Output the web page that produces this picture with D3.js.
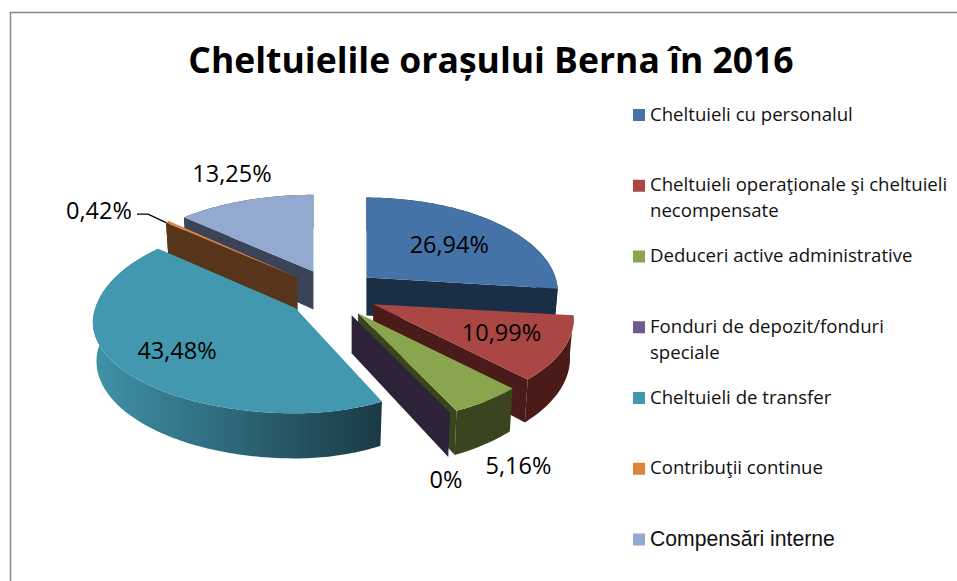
<!DOCTYPE html>
<html><head><meta charset="utf-8">
<script src="https://cdnjs.cloudflare.com/ajax/libs/d3/7.8.5/d3.min.js"></script>
<style>html,body{margin:0;padding:0;background:#fff}svg{display:block}</style>
</head><body><svg id="c" width="957" height="581"></svg>
<script>
const titleText = "Cheltuielile orașului Berna în 2016";
const categories = [["Cheltuieli cu personalul"],["Cheltuieli operaţionale şi cheltuieli","necompensate"],["Deduceri active administrative"],["Fonduri de depozit/fonduri","speciale"],["Cheltuieli de transfer"],["Contribuţii continue"],["Compensări interne"]];
const values = [26.94,10.99,5.16,0,43.48,0.42,13.25];
const valueLabels = ["26,94%","10,99%","5,16%","0%","43,48%","0,42%","13,25%"];
const topColors = ["#4572a7","#aa4643","#89a54e","#71588f","#4198af","#db843d","#93a9cf"];
const sideColors = ["#1a2e45","#4a1b18","#3a4520","#2e2238","#1a3a45","#57351a","#3a4358"];

// layout
const W=957,H=581, cx=332, cy=293.5, rx=198, ry=92.5, persp=0.157, depth=38, explodeX=46, explodeY=24;
const labelFx=[0.56,0.724,1.43,1.118,0.75,1.343,1.02], labelFy=[0.536,0.70,2.0,1.97,0.77,1.08,1.15];
const drawOrder=[6,5,0,4,1,2,3];
const xScaleRight=[0.955,1,1,1,0.88,1,1], xScaleLeft=[1,1,1,1,1.01,0.97,0.98];
const yScaleFront=[1,1,1,1,0.96,1,1], yScaleBack=[1,1,1,1,1.08,1,0.96];

const svg=d3.select("#c");
svg.append("path").attr("d",d3.line()([[10.5,H],[10.5,12.5],[W,12.5]])).attr("fill","none").attr("stroke","#868686").attr("stroke-width",1.5);

svg.append("text").text(titleText).attr("x",491).attr("y",73)
  .attr("text-anchor","middle").attr("font-family","Open Sans").attr("font-weight",700).attr("font-size",35.5).attr("fill","#000");

const pie=d3.pie().sort(null).value(d=>d).startAngle(0).endAngle(2*Math.PI);
const arcs=pie(values);
const line=d3.line();
const deg=Math.PI/180;

function projector(ax,ay,i){
  return (a,r,level)=>{
    const X=r*Math.sin(a), Z=-r*Math.cos(a), s=1/(1-persp*Z);
    const kx=X>0?xScaleRight[i]:xScaleLeft[i], ky=Z>0?yScaleFront[i]:yScaleBack[i];
    return [ax+X*rx*kx*s*(1-0.018*level), ay+Z*ry*ky*s+depth*s*level];
  };
}
function arcPts(P,a0,a1,level){
  const n=Math.max(1,Math.ceil(Math.abs(a1-a0)/deg));
  return d3.range(n+1).map(i=>P(a0+(a1-a0)*i/n,1,level));
}

const defs=svg.append("defs");
const grad=defs.append("linearGradient").attr("id","tealRim").attr("gradientUnits","userSpaceOnUse");
grad.append("stop").attr("offset",0).attr("stop-color","#3f92a9");
grad.append("stop").attr("offset",1).attr("stop-color",sideColors[4]);

const wedges=arcs.map((d,i)=>{
  const m=(d.startAngle+d.endAngle)/2;
  const ax=cx+explodeX*Math.sin(m), ay=cy-explodeY*Math.cos(m);
  return {i,d,m,ax,ay,P:projector(ax,ay,i)};
});

drawOrder.forEach(i=>{
  const w=wedges[i], {d,P}=w, a0=d.startAngle, a1=d.endAngle;
  const g=svg.append("g");
  const side=sideColors[i];
  if(d.value>0){
    const rim=arcPts(P,a0,a1,0).concat(arcPts(P,a1,a0,1));
    if(i===4){
      const xs=rim.map(p=>p[0]);
      grad.attr("x1",d3.min(xs)).attr("x2",d3.max(xs)).attr("y1",0).attr("y2",0);
    }
    g.append("path").attr("d",line(rim)+"Z").attr("fill",i===4?"url(#tealRim)":side);
  }
  [[a0,1],[a1,-1]].forEach(([a,sign])=>{
    const q=[P(a,0,0),P(a,1,0),P(a,1,1),P(a,0,1)];
    if(d3.polygonArea(q)*sign>0) g.append("path").attr("d",line(q)+"Z").attr("fill",side);
  });
  if(d.value>0){
    const top=[P(0,0,0)].concat(arcPts(P,a0,a1,0));
    g.append("path").attr("d",line(top)+"Z").attr("fill",topColors[i]);
  }
});

// leader line for the thin slice
const br=wedges[5], brEnd=br.P(br.d.startAngle,1,0);
svg.append("path").attr("d",line([[brEnd[0]-29,brEnd[1]-8.5],[brEnd[0]-18,brEnd[1]-8.5],brEnd])).attr("fill","none").attr("stroke","#000").attr("stroke-width",1.4);

// value labels
wedges.forEach(w=>{
  svg.append("text").text(valueLabels[w.i])
    .attr("x",w.ax+labelFx[w.i]*rx*Math.sin(w.m))
    .attr("y",w.ay-labelFy[w.i]*ry*Math.cos(w.m)+8)
    .attr("text-anchor","middle").attr("font-family","Open Sans").attr("font-size",23.5).attr("fill","#000");
});

// legend
const ly=d3.scaleLinear().domain([0,6]).range([109,533.5]);
const lg=svg.append("g");
categories.forEach((lines,i)=>{
  lg.append("rect").attr("x",633).attr("y",ly(i)).attr("width",12).attr("height",12).attr("fill",topColors[i]);
  const last=i===6;
  const t=lg.append("text").attr("font-family",last?"Liberation Sans":"Open Sans").attr("font-size",last?21.2:18.6).attr("fill","#111");
  lines.forEach((s,j)=>t.append("tspan").attr("x",650).attr("y",ly(i)+(last?12:11.5)+j*26).text(s));
});
</script></body></html>
